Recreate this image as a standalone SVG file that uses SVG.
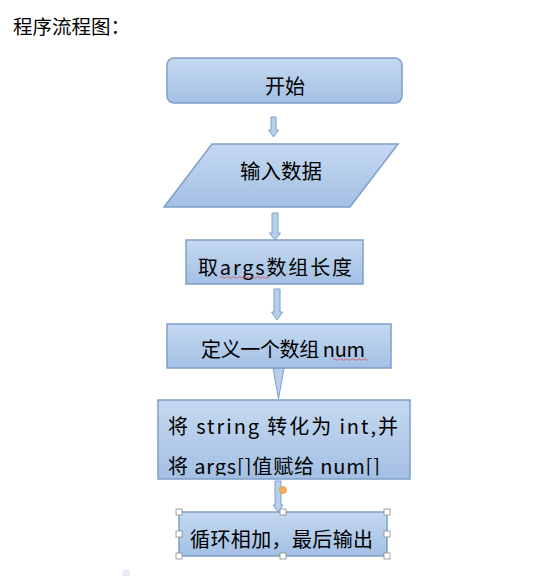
<svg xmlns="http://www.w3.org/2000/svg" width="550" height="576" viewBox="0 0 550 576">
<defs>
<linearGradient id="g" x1="0" y1="0" x2="0" y2="1">
<stop offset="0" stop-color="#c5daf1"/>
<stop offset="1" stop-color="#a3bfe3"/>
</linearGradient>
<clipPath id="c5"><rect x="158" y="400" width="252" height="75.5"/></clipPath>
<style>
.box{fill:url(#g);stroke:#7f9fc9;stroke-width:1.5}
.t{font-family:"Noto Sans CJK SC","Noto Sans",sans-serif;font-size:20px;font-weight:400;fill:#000;text-anchor:middle}
.tl{font-family:"Noto Sans CJK SC","Noto Sans",sans-serif;font-size:20px;font-weight:400;fill:#000}
.arr{fill:#b8cfea;stroke:#7f9fc9;stroke-width:1}
.h{fill:#fff;stroke:#8a8a8a;stroke-width:0.8}
.w{fill:none;stroke:#e05050;stroke-width:0.8}
</style>
</defs>
<rect width="550" height="576" fill="#fff"/>
<text x="13" y="34" font-family="'Noto Sans CJK SC',sans-serif" font-size="19.5" fill="#000">程序流程图：</text>
<g id="connectors">
<polygon class="arr" points="271,117 276,117 276,130 278.5,130 273.5,137 268.5,130 271,130"/>
<polygon class="arr" points="272,213 278,213 278,233 280.5,233 275,240 269.5,233 272,233"/>
<polygon class="arr" points="274,289 280,289 280,312 282.5,312 277,320 271.5,312 274,312"/>
<polygon class="arr" points="273,368 284,368 278.5,399"/>
<polygon class="arr" points="275,481 281,481 281,505 283,505 278,512 273,505 275,505"/>
<circle cx="283" cy="490" r="3.5" fill="#f4b25a" stroke="#d98a2a" stroke-width="0.6"/>
</g>
<g id="start">
<rect class="box" x="167" y="58" width="235" height="45" rx="7"/>
<text class="t" x="285" y="94">开始</text>
</g>
<g id="input">
<polygon class="box" points="212,144 398,144 350,207 164,207"/>
<text class="t" x="281" y="179" style="font-size:20.5px">输入数据</text>
</g>
<g id="length">
<rect class="box" x="186" y="240" width="177" height="44"/>
<text class="tl" x="198" y="275" textLength="154" lengthAdjust="spacing">取args数组长度</text>
<path class="w" d="M220,277.5 q1.5,-1.5 3,0 t3,0 t3,0 t3,0 t3,0 t3,0 t3,0 t3,0 t3,0 t3,0 t3,0 t3,0 t3,0 t3,0 t3,0 t3,0 t2,0"/>
</g>
<g id="define">
<rect class="box" x="167" y="324" width="224" height="44"/>
<text class="tl" x="201" y="357" textLength="164" lengthAdjust="spacing">定义一个数组 num</text>
<path class="w" d="M333,359.5 q1.5,-1.5 3,0 t3,0 t3,0 t3,0 t3,0 t3,0 t3,0 t3,0 t3,0 t3,0 t3,0 t1,0"/>
</g>
<g id="convert">
<rect class="box" x="158" y="400" width="252" height="79"/>
<text class="tl" x="168" y="434" textLength="230" lengthAdjust="spacing">将 string 转化为 int,并</text>
<text class="tl" x="168" y="474" textLength="212" lengthAdjust="spacing" clip-path="url(#c5)">将 args[]值赋给 num[]</text>
</g>
<g id="sum">
<rect class="box" x="179" y="512" width="208" height="44"/>
<text class="tl" x="190" y="547" textLength="183" lengthAdjust="spacing">循环相加，最后输出</text>
<rect class="h" x="176" y="509" width="6" height="6"/>
<rect class="h" x="280" y="509" width="6" height="6"/>
<rect class="h" x="384" y="509" width="6" height="6"/>
<rect class="h" x="176" y="531" width="6" height="6"/>
<rect class="h" x="384" y="531" width="6" height="6"/>
<rect class="h" x="176" y="553" width="6" height="6"/>
<rect class="h" x="280" y="553" width="6" height="6"/>
<rect class="h" x="384" y="553" width="6" height="6"/>
</g>
<rect x="123" y="570" width="6" height="6" fill="#eeebf7" stroke="#ddd8f0" stroke-width="0.5"/>
</svg>
